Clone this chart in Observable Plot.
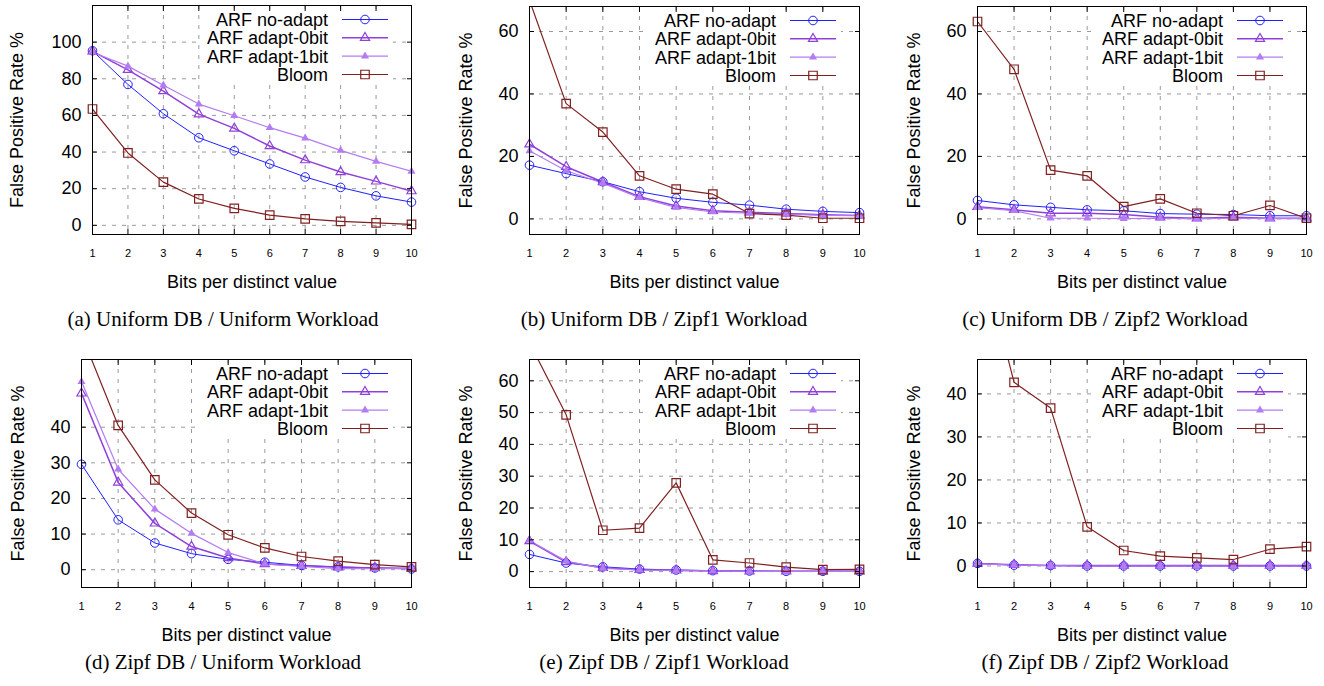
<!DOCTYPE html>
<html><head><meta charset="utf-8">
<script src="https://cdn.jsdelivr.net/npm/d3@7"></script>
<script src="https://cdn.jsdelivr.net/npm/@observablehq/plot@0.6"></script>
<style>
html,body{margin:0;padding:0;background:#fff;}
body{width:1324px;height:686px;position:relative;overflow:hidden;font-family:"Liberation Sans",Arial,sans-serif;}
.panel{position:absolute;}
.cap{position:absolute;font-family:"Liberation Serif","Times New Roman",serif;font-size:21px;line-height:21px;color:#000;white-space:nowrap;transform:translateX(-50%);}
</style></head><body>
<script>
// ---------- data ----------
const bits = [1, 2, 3, 4, 5, 6, 7, 8, 9, 10];
const seriesNames = ["ARF no-adapt", "ARF adapt-0bit", "ARF adapt-1bit", "Bloom"];
const xLabel = "Bits per distinct value";
const yLabel = "False Positive Rate %";

// (a) Uniform DB / Uniform Workload
const aNoAdapt = [95.3, 76.9, 60.9, 47.8, 40.7, 33.5, 26.4, 20.7, 16.1, 12.7];
const aAdapt0  = [95.0, 84.9, 73.3, 60.7, 52.9, 43.3, 35.6, 29.1, 24.0, 18.7];
const aAdapt1  = [94.5, 86.9, 76.5, 66.2, 59.8, 53.3, 47.6, 40.9, 34.9, 29.5];
const aBloom   = [63.5, 39.5, 23.6, 14.4, 9.3, 5.6, 3.5, 2.2, 1.3, 0.5];
const aTicks   = [0, 20, 40, 60, 80, 100];

// (b) Uniform DB / Zipf1 Workload
const bNoAdapt = [17.2, 14.5, 11.9, 8.7, 6.6, 5.3, 4.4, 3.1, 2.4, 2.0];
const bAdapt0  = [23.9, 16.7, 11.8, 7.1, 4.1, 2.6, 2.1, 1.7, 1.3, 1.1];
const bAdapt1  = [21.8, 15.4, 11.4, 6.8, 3.7, 2.2, 1.8, 1.5, 1.1, 1.0];
const bBloom   = [70.0, 36.9, 27.8, 13.8, 9.5, 7.9, 1.7, 1.2, 0.2, 0.2];
const bTicks   = [0, 20, 40, 60];

// (c) Uniform DB / Zipf2 Workload
const cNoAdapt = [5.9, 4.5, 3.7, 2.9, 2.6, 1.7, 1.5, 1.4, 1.0, 1.0];
const cAdapt0  = [3.9, 2.9, 1.8, 1.8, 1.4, 0.5, 0.2, 0.5, 0.2, 0.2];
const cAdapt1  = [3.6, 2.6, 0.2, 0.2, 0.1, 0.2, 0.0, 0.2, 0.1, 0.1];
const cBloom   = [63.2, 47.9, 15.6, 13.8, 3.9, 6.4, 1.8, 1.0, 4.3, 0.2];
const cTicks   = [0, 20, 40, 60];

// (d) Zipf DB / Uniform Workload
const dNoAdapt = [29.6, 14.0, 7.5, 4.5, 2.9, 2.1, 1.2, 0.8, 0.5, 0.2];
const dAdapt0  = [49.5, 24.5, 13.0, 6.5, 3.3, 1.6, 1.1, 0.7, 0.5, 0.4];
const dAdapt1  = [52.8, 28.2, 17.0, 10.2, 4.8, 1.6, 0.9, 0.3, 0.3, 0.3];
const dBloom   = [66.0, 40.5, 25.2, 15.9, 9.8, 6.1, 3.7, 2.4, 1.4, 0.8];
const dTicks   = [0, 10, 20, 30, 40];

// (e) Zipf DB / Zipf1 Workload
const eNoAdapt = [5.4, 2.7, 1.5, 0.8, 0.5, 0.3, 0.2, 0.1, 0.1, 0.1];
const eAdapt0  = [9.6, 3.0, 1.2, 0.6, 0.4, 0.2, 0.1, 0.1, 0.1, 0.1];
const eAdapt1  = [9.8, 3.3, 1.0, 0.5, 0.3, 0.2, 0.1, 0.1, 0.1, 0.1];
const eBloom   = [72.0, 49.3, 13.0, 13.7, 27.9, 3.7, 2.7, 1.4, 0.6, 0.7];
const eTicks   = [0, 10, 20, 30, 40, 50, 60];

// (f) Zipf DB / Zipf2 Workload
const fNoAdapt = [0.6, 0.2, 0.1, 0.0, 0.0, 0.0, 0.0, 0.0, 0.0, 0.0];
const fAdapt0  = [0.6, 0.3, 0.1, 0.1, 0.1, 0.1, 0.1, 0.1, 0.1, 0.1];
const fAdapt1  = [0.5, 0.2, 0.1, 0.0, 0.0, 0.0, 0.0, 0.0, 0.0, 0.0];
const fBloom   = [76.0, 42.7, 36.7, 9.1, 3.6, 2.3, 1.9, 1.5, 3.9, 4.5];
const fTicks   = [0, 10, 20, 30, 40];

const captions = [
  "(a) Uniform DB / Uniform Workload",
  "(b) Uniform DB / Zipf1 Workload",
  "(c) Uniform DB / Zipf2 Workload",
  "(d) Zipf DB / Uniform Workload",
  "(e) Zipf DB / Zipf1 Workload",
  "(f) Zipf DB / Zipf2 Workload"
];

// ---------- styles ----------
const styles = [
  {color: "#2020ff", lw: 1.0, symbol: "circle",   r: 4.3, filled: false, sw: 1.0},
  {color: "#9040d8", lw: 1.5, symbol: "triangle", r: 3.4, filled: false, sw: 1.2},
  {color: "#b47cf2", lw: 1.2, symbol: "triangle", r: 3.0, filled: true,  sw: 0},
  {color: "#802020", lw: 1.2, symbol: "square",   r: 4.8, filled: false, sw: 1.2}
];
const d3Symbols = {circle: d3.symbolCircle, triangle: d3.symbolTriangle, square: d3.symbolSquare};

// ---------- layout ----------
const panels = [
  {series: [aNoAdapt, aAdapt0, aAdapt1, aBloom], ticks: aTicks, domain: [-5, 120],  left: 0,   top: 0,   width: 441, mL: 92, mR: 30, mT: 5, yDx: -75, capX: 223, capTop: 309},
  {series: [bNoAdapt, bAdapt0, bAdapt1, bBloom], ticks: bTicks, domain: [-5, 68],   left: 441, top: 0,   width: 441, mL: 88, mR: 23, mT: 6, yDx: -63, capX: 664, capTop: 309},
  {series: [cNoAdapt, cAdapt0, cAdapt1, cBloom], ticks: cTicks, domain: [-5, 68],   left: 882, top: 0,   width: 442, mL: 95, mR: 18, mT: 6, yDx: -63, capX: 1105, capTop: 309},
  {series: [dNoAdapt, dAdapt0, dAdapt1, dBloom], ticks: dTicks, domain: [-5, 59],   left: 0,   top: 353, width: 441, mL: 81, mR: 30, mT: 6, yDx: -63, capX: 223, capTop: 652},
  {series: [eNoAdapt, eAdapt0, eAdapt1, eBloom], ticks: eTicks, domain: [-5, 66.7], left: 441, top: 353, width: 441, mL: 88, mR: 23, mT: 6, yDx: -63, capX: 664, capTop: 652},
  {series: [fNoAdapt, fAdapt0, fAdapt1, fBloom], ticks: fTicks, domain: [-5, 48],   left: 882, top: 353, width: 442, mL: 95, mR: 18, mT: 6, yDx: -63, capX: 1105, capTop: 652}
];
const H = 300;
const mB = 300 - 234;

function legendMark(p) {
  return () => {
    const g = d3.create("svg:g");
    const right = p.width - p.mR;
    const top = p.mT;
    const rowY = [14.5, 32.8, 51.2, 69.5];
    g.append("rect")
      .attr("x", right - 83 - 127).attr("y", top + 4)
      .attr("width", 127 + 83 - 18).attr("height", 75)
      .attr("fill", "white");
    seriesNames.forEach((name, i) => {
      const s = styles[i];
      const y = top + rowY[i];
      g.append("text")
        .attr("x", right - 83).attr("y", y).attr("dy", "0.36em")
        .attr("text-anchor", "end").attr("font-size", 18).attr("fill", "#000")
        .text(name);
      g.append("line")
        .attr("x1", right - 69).attr("x2", right - 23)
        .attr("y1", y).attr("y2", y)
        .attr("stroke", s.color).attr("stroke-width", s.lw);
      g.append("path")
        .attr("transform", `translate(${right - 46},${y})`)
        .attr("d", d3.symbol(d3Symbols[s.symbol], s.r * s.r * Math.PI)())
        .attr("fill", s.filled ? s.color : "none")
        .attr("stroke", s.filled ? "none" : s.color)
        .attr("stroke-width", s.sw);
    });
    return g.node();
  };
}

panels.forEach((p, k) => {
  const ymax = p.domain[1];
  const seriesMarks = [];
  p.series.forEach((vals, i) => {
    const s = styles[i];
    const rows = bits.map((b, j) => ({x: b, y: vals[j]}));
    seriesMarks.push(Plot.line(rows, {x: "x", y: "y", stroke: s.color, strokeWidth: s.lw, clip: true}));
  });
  p.series.forEach((vals, i) => {
    const s = styles[i];
    const rows = bits.map((b, j) => ({x: b, y: vals[j]})).filter(d => d.y <= ymax);
    seriesMarks.push(Plot.dot(rows, {
      x: "x", y: "y", symbol: s.symbol, r: s.r,
      fill: s.filled ? s.color : "none",
      stroke: s.filled ? "none" : s.color,
      strokeWidth: s.sw
    }));
  });

  const chart = Plot.plot({
    width: p.width,
    height: H,
    marginLeft: p.mL,
    marginRight: p.mR,
    marginTop: p.mT,
    marginBottom: mB,
    style: {fontFamily: "'Liberation Sans', Arial, sans-serif", fontSize: "18px", color: "#000", background: "transparent"},
    x: {domain: [1, 10], label: null},
    y: {domain: p.domain, label: null},
    marks: [
      Plot.gridX(bits, {stroke: "#9a9a9a", strokeOpacity: 1, strokeDasharray: "4,6"}),
      Plot.gridY(p.ticks, {stroke: "#9a9a9a", strokeOpacity: 1, strokeDasharray: "4,6"}),
      legendMark(p),
      ...seriesMarks,
      Plot.frame({stroke: "#000", strokeWidth: 1}),
      Plot.axisY(p.ticks, {anchor: "left", tickSize: -5, tickPadding: 16, fontSize: 18, label: null}),
      Plot.axisY(p.ticks, {anchor: "right", tickSize: -5, fill: "none", label: null}),
      Plot.axisX(bits, {anchor: "bottom", tickSize: -5, tickPadding: 20, fontSize: 11, label: null}),
      Plot.axisX(bits, {anchor: "top", tickSize: -5, fill: "none", label: null}),
      Plot.text([xLabel], {text: d => d, frameAnchor: "bottom", textAnchor: "middle", dy: 47.7, lineAnchor: "middle", fontSize: 18}),
      Plot.text([yLabel], {text: d => d, frameAnchor: "left", textAnchor: "middle", rotate: -90, dx: p.yDx, lineAnchor: "middle", fontSize: 18})
    ]
  });
  chart.classList.add("panel");
  chart.style.left = p.left + "px";
  chart.style.top = p.top + "px";
  document.body.appendChild(chart);

  const cap = document.createElement("div");
  cap.className = "cap";
  cap.style.left = p.capX + "px";
  cap.style.top = p.capTop + "px";
  cap.textContent = captions[k];
  document.body.appendChild(cap);
});
</script>
</body></html>
